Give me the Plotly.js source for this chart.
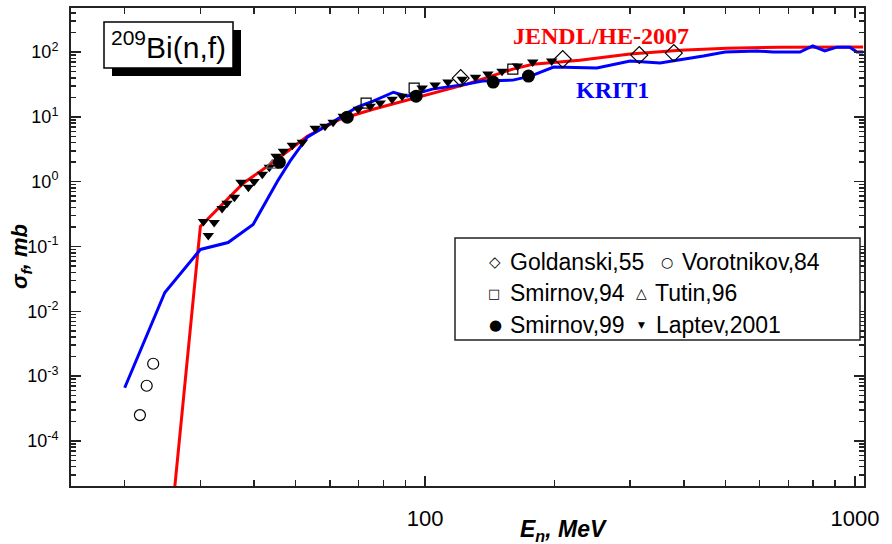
<!DOCTYPE html>
<html><head><meta charset="utf-8">
<script src="https://cdn.plot.ly/plotly-3.0.1.min.js"></script>
<style>html,body{margin:0;padding:0;background:#fff}#chart{width:892px;height:544px}</style>
</head><body><div id="chart"></div>
<script>
// JENDL/HE-2007 evaluation (red)
const jendlE = [25.9, 30, 37.7, 44.3, 53.2, 63.4, 75.7, 108, 125, 160, 178, 229, 300, 392, 504, 669, 1045];
const jendlS = [1e-5, 0.204, 0.94, 1.99, 5.02, 9.2, 13.1, 25, 32, 54.6, 65, 75, 93, 107, 115, 119, 120];
// KRIT1 calculation (blue)
const kritE = [20.0, 24.8, 30, 34.8, 39.8, 45.3, 48.5, 53.2, 62.4, 69.5, 75.7, 84.4, 90.8, 104, 125, 136, 160, 176, 199, 251, 300, 352, 444, 499, 592, 645, 745, 798, 851, 908, 973, 1011, 1045];
const kritS = [6.6e-4, 0.0195, 0.09, 0.115, 0.219, 1.01, 2.07, 4.85, 9.2, 14.1, 17.5, 24, 20.9, 26.8, 32, 35.7, 36.9, 42.5, 58.6, 56.6, 72.6, 67.7, 86.7, 100, 104, 100, 100, 124, 104, 119, 119, 100, 100];
// Experimental data
const goldE = [121, 209, 315, 379];
const goldS = [39.6, 77.9, 89.9, 96.5];
const voroE = [21.7, 22.5, 23.3];
const voroS = [2.5e-4, 7.1e-4, 1.55e-3];
const smir94E = [72.9, 94.3, 160];
const smir94S = [16.3, 27.8, 54.6];
const tutinE = [44.1];
const tutinS = [1.79];
const smir99E = [45.8, 65.9, 95.3, 144, 174];
const smir99S = [1.99, 9.9, 20.9, 34.4, 42.6];
const laptevE = [30.5, 32.3, 31.3, 33.7, 34.6, 36.0, 37.3, 38.8, 40.0, 41.8, 43.4, 45.0, 46.8, 49.1, 51.8, 55.5, 58.5, 61.1, 64.5, 69.9, 74.5, 78.6, 83.8, 88.4, 98.4, 105.5, 113, 122, 131, 140, 151, 164, 178, 197];
const laptevS = [0.244, 0.235, 0.148, 0.387, 0.463, 0.573, 0.977, 0.817, 1.01, 1.30, 1.67, 2.47, 2.95, 3.65, 4.06, 6.68, 7.18, 8.28, 10.2, 13.1, 14.6, 16.3, 18.7, 20.9, 27.8, 30.9, 34.4, 38.2, 41.0, 45.7, 50.8, 60.8, 70.0, 72.6];

// Tick labels
const xTickVals = [100, 1000];
const xTickText = ['100', '1000'];
const yTickVals = [1e-4, 1e-3, 1e-2, 1e-1, 1, 10, 100];
const yTickText = ['10<sup>-4</sup>', '10<sup>-3</sup>', '10<sup>-2</sup>', '10<sup>-1</sup>', '10<sup>0</sup>', '10<sup>1</sup>', '10<sup>2</sup>'];

const xMinor = [];
[10, 100].forEach(d => { for (let k = 2; k <= 9; k++) xMinor.push(k * d); });
const yMinor = [];
[1e-5, 1e-4, 1e-3, 1e-2, 1e-1, 1, 10, 100].forEach(d => { for (let k = 2; k <= 9; k++) yMinor.push(k * d); });

const AX = '#222';
const sans = 'Liberation Sans, Arial, sans-serif';
const serif = 'Liberation Serif, Times New Roman, serif';

const data = [
  {x: jendlE, y: jendlS, mode: 'lines', name: 'JENDL/HE-2007', line: {color: '#ff0000', width: 3}},
  {x: kritE, y: kritS, mode: 'lines', name: 'KRIT1', line: {color: '#0000ff', width: 3}},
  {x: laptevE, y: laptevS, mode: 'markers', name: 'Laptev,2001', marker: {symbol: 'triangle-down', size: 10, color: 'black'}},
  {x: tutinE, y: tutinS, mode: 'markers', name: 'Tutin,96', marker: {symbol: 'triangle-up-open', size: 11, color: '#666', line: {width: 1.2, color: '#666'}}},
  {x: smir99E, y: smir99S, mode: 'markers', name: 'Smirnov,99', marker: {symbol: 'circle', size: 13, color: 'black'}},
  {x: smir94E, y: smir94S, mode: 'markers', name: 'Smirnov,94', marker: {symbol: 'square-open', size: 10, color: 'black', line: {width: 1.2, color: 'black'}}},
  {x: voroE, y: voroS, mode: 'markers', name: 'Vorotnikov,84', marker: {symbol: 'circle-open', size: 11, color: 'black', line: {width: 1.2, color: 'black'}}},
  {x: goldE, y: goldS, mode: 'markers', name: 'Goldanski,55', marker: {symbol: 'diamond-open', size: 13, color: 'black', line: {width: 1.2, color: 'black'}}}
];

const P = (px) => (px - 71) / 793;
const Q = (py) => (486 - py) / 478;

const legendItems = [
  {g: '◇', gs: 15, gx: 495, t: 'Goldanski,55', tx: 508, y: 262},
  {g: '○', gs: 14, gx: 667, t: 'Vorotnikov,84', tx: 680, y: 262},
  {g: '□', gs: 13, gx: 494, t: 'Smirnov,94', tx: 508, y: 293},
  {g: '△', gs: 14, gx: 641, t: 'Tutin,96', tx: 653, y: 293},
  {g: '●', gs: 15, gx: 495, t: 'Smirnov,99', tx: 508, y: 325},
  {g: '▼', gs: 9, gx: 641, t: 'Laptev,2001', tx: 654, y: 325}
];

const annotations = [
  {xref: 'paper', yref: 'paper', x: P(168.5), y: Q(45), xanchor: 'center', yanchor: 'middle', showarrow: false,
   text: '<sup>209</sup>Bi(n,f)', font: {family: sans, size: 30, color: 'black'}},
  {xref: 'paper', yref: 'paper', x: P(601), y: Q(36), xanchor: 'center', yanchor: 'middle', showarrow: false,
   text: '<b>JENDL/HE-2007</b>', font: {family: serif, size: 24, color: '#ff0000'}},
  {xref: 'paper', yref: 'paper', x: P(612), y: Q(90), xanchor: 'center', yanchor: 'middle', showarrow: false,
   text: '<b>KRIT1</b>', font: {family: serif, size: 24, color: '#0000ff'}},
  {xref: 'paper', yref: 'paper', x: P(563), y: Q(530), xanchor: 'center', yanchor: 'middle', showarrow: false,
   text: '<b><i>E<sub>n</sub>, MeV</i></b>', font: {family: sans, size: 23, color: 'black'}},
  {xref: 'paper', yref: 'paper', x: P(21), y: Q(257), xanchor: 'center', yanchor: 'middle', showarrow: false, textangle: -90,
   text: '<b><i>σ<sub>f</sub>, mb</i></b>', font: {family: sans, size: 22, color: 'black'}}
];
legendItems.forEach(it => {
  annotations.push({xref: 'paper', yref: 'paper', x: P(it.gx), y: Q(it.y), xanchor: 'center', yanchor: 'middle', showarrow: false,
    text: it.g, font: {family: 'DejaVu Sans', size: it.gs, color: 'black'}});
  annotations.push({xref: 'paper', yref: 'paper', x: P(it.tx), y: Q(it.y), xanchor: 'left', yanchor: 'middle', showarrow: false,
    text: it.t, font: {family: sans, size: 23, color: 'black'}});
});

const shapes = [
  {type: 'rect', xref: 'paper', yref: 'paper', x0: P(112), x1: P(241), y0: Q(76), y1: Q(30), fillcolor: 'black', line: {width: 0}},
  {type: 'rect', xref: 'paper', yref: 'paper', x0: P(104), x1: P(233), y0: Q(68), y1: Q(22), fillcolor: 'white', line: {color: 'black', width: 1.5}},
  {type: 'rect', xref: 'paper', yref: 'paper', x0: P(455), x1: P(860), y0: Q(340), y1: Q(238), fillcolor: 'white', line: {color: AX, width: 1.5}}
];

const layout = {
  width: 892, height: 544,
  margin: {l: 71, r: 28, t: 8, b: 58},
  paper_bgcolor: 'white', plot_bgcolor: 'white',
  showlegend: false,
  xaxis: {
    type: 'log', range: [Math.log10(15), Math.log10(1050)],
    tickmode: 'array', tickvals: xTickVals, ticktext: xTickText,
    ticks: 'inside', ticklen: 10, tickwidth: 1.5, tickcolor: AX,
    showline: true, linewidth: 2, linecolor: AX, mirror: 'ticks',
    showgrid: false, zeroline: false,
    tickfont: {family: sans, size: 22, color: 'black'}, ticklabelstandoff: 12,
    minor: {tickmode: 'array', tickvals: xMinor, ticks: 'inside', ticklen: 6, tickwidth: 1.5, tickcolor: AX, showgrid: false}
  },
  yaxis: {
    type: 'log', range: [-4.696, 2.680],
    tickmode: 'array', tickvals: yTickVals, ticktext: yTickText,
    ticks: 'inside', ticklen: 10, tickwidth: 1.5, tickcolor: AX,
    showline: true, linewidth: 2, linecolor: AX, mirror: 'ticks',
    showgrid: false, zeroline: false,
    tickfont: {family: sans, size: 18, color: 'black'}, ticklabelstandoff: 7,
    minor: {tickmode: 'array', tickvals: yMinor, ticks: 'inside', ticklen: 5, tickwidth: 1.5, tickcolor: AX, showgrid: false}
  },
  annotations: annotations,
  shapes: shapes
};

Plotly.newPlot('chart', data, layout, {displayModeBar: false, staticPlot: true});
</script>
</body></html>
